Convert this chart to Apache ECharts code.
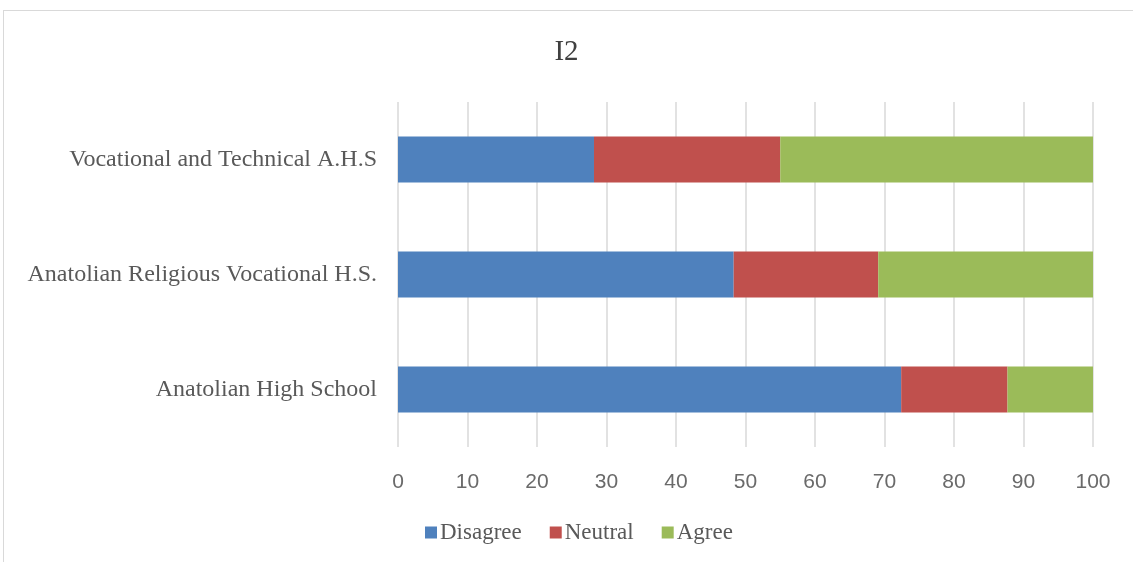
<!DOCTYPE html>
<html><head><meta charset="utf-8">
<script src="https://cdn.jsdelivr.net/npm/echarts@6/dist/echarts.min.js"></script>
<style>html,body{margin:0;padding:0;background:#fff}#c{width:1133px;height:562px}
#frame{position:absolute;left:3px;top:10px;width:1140px;height:560px;border:1.5px solid #d9d9d9;box-sizing:border-box;pointer-events:none}</style>
</head><body><div id="c"></div><div id="frame"></div>
<script>
const categories = ['Anatolian High School', 'Anatolian Religious Vocational H.S.', 'Vocational and Technical A.H.S'];
const disagree = [72.4, 48.3, 28.2];
const neutral = [15.3, 20.8, 26.8];
const agree = [12.3, 30.9, 45.0];
const xTicks = {min: 0, max: 100, interval: 10};

const font = 'Liberation Serif, Times New Roman, serif';
const chart = echarts.init(document.getElementById('c'));
const mk = (name, data, color) => ({
  name, type: 'bar', stack: 'total', data, barWidth: 46,
  itemStyle: {color}, emphasis: {disabled: true}
});
chart.setOption({
  animation: false,
  title: {text: 'I2', left: 'center', top: 33,
    textStyle: {fontFamily: font, fontSize: 29, fontWeight: 'normal', color: '#404040'}},
  legend: {bottom: 13, left: 420, itemWidth: 12, itemHeight: 12, itemGap: 28,
    icon: 'rect', textStyle: {fontFamily: font, fontSize: 23, color: '#595959', padding: [0,0,0,-2]},
    data: ['Disagree', 'Neutral', 'Agree']},
  grid: {left: 398, right: 40, top: 102, bottom: 115},
  xAxis: {type: 'value', min: xTicks.min, max: xTicks.max, interval: xTicks.interval,
    axisLine: {show: false}, axisTick: {show: false},
    splitLine: {lineStyle: {color: '#d9d9d9', width: 1.5}},
    axisLabel: {fontFamily: 'Liberation Sans, Arial, sans-serif', fontSize: 21, color: '#6a6a6a', margin: 25}},
  yAxis: {type: 'category', data: categories,
    axisLine: {show: false}, axisTick: {show: false},
    axisLabel: {fontFamily: font, fontSize: 24, color: '#595959', margin: 21}},
  series: [mk('Disagree', disagree, '#4f81bd'), mk('Neutral', neutral, '#c0504d'), mk('Agree', agree, '#9bbb59')]
});
</script></body></html>
